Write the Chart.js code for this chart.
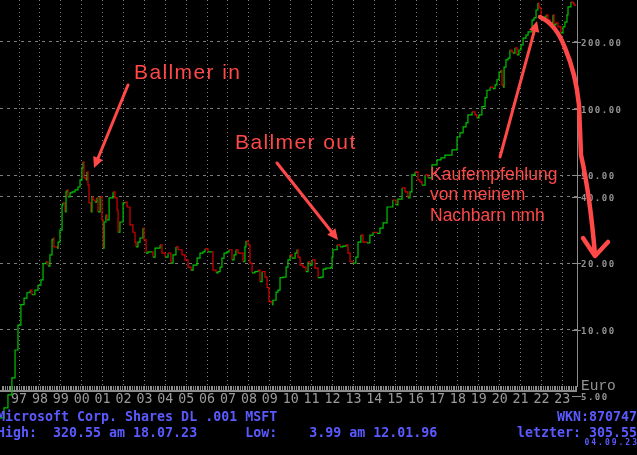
<!DOCTYPE html>
<html>
<head>
<meta charset="utf-8">
<script src="https://cdn.jsdelivr.net/npm/chart.js@4.4.0/dist/chart.umd.min.js"></script>
<style>
  html, body { margin: 0; padding: 0; background: #000; }
  #wrap { width: 637px; height: 455px; position: relative; background: #000; }
</style>
</head>
<body>
<div id="wrap"><canvas id="myChart" width="637" height="455"></canvas></div>
<script>
// MSFT weekly close in Euro
const years = [
  1996.09, 1996.28, 1996.47, 1996.66, 1996.81, 1996.95, 1997.09, 1997.24, 1997.38, 1997.53,
  1997.62, 1997.76, 1997.91, 1998.05, 1998.15, 1998.29, 1998.39, 1998.48, 1998.58, 1998.63,
  1998.67, 1998.82, 1998.87, 1998.96, 1999.06, 1999.10, 1999.20, 1999.25, 1999.30, 1999.34,
  1999.44, 1999.54, 1999.68, 1999.82, 1999.92, 2000.01, 2000.06, 2000.11, 2000.20, 2000.25,
  2000.30, 2000.35, 2000.44, 2000.49, 2000.54, 2000.64, 2000.73, 2000.78, 2000.88, 2000.97,
  2001.02, 2001.07, 2001.16, 2001.21, 2001.31, 2001.50, 2001.59, 2001.69, 2001.74, 2001.83,
  2001.98, 2002.07, 2002.17, 2002.31, 2002.45, 2002.55, 2002.60, 2002.69, 2002.79, 2002.93,
  2002.98, 2003.08, 2003.17, 2003.36, 2003.41, 2003.51, 2003.75, 2003.84, 2003.99, 2004.13,
  2004.27, 2004.37, 2004.51, 2004.61, 2004.80, 2004.94, 2005.09, 2005.23, 2005.33, 2005.52,
  2005.66, 2005.80, 2005.90, 2006.04, 2006.23, 2006.28, 2006.43, 2006.52, 2006.62, 2006.71,
  2006.81, 2006.95, 2007.05, 2007.19, 2007.29, 2007.38, 2007.48, 2007.72, 2007.81, 2007.86,
  2007.96, 2008.05, 2008.15, 2008.29, 2008.44, 2008.53, 2008.63, 2008.77, 2008.87, 2008.96,
  2009.11, 2009.15, 2009.30, 2009.39, 2009.49, 2009.63, 2009.78, 2009.87, 2009.97, 2010.06,
  2010.21, 2010.30, 2010.35, 2010.45, 2010.59, 2010.73, 2010.83, 2010.92, 2011.02, 2011.16,
  2011.31, 2011.45, 2011.55, 2011.69, 2011.79, 2011.93, 2011.98, 2012.02, 2012.22, 2012.36,
  2012.50, 2012.65, 2012.74, 2012.84, 2012.98, 2013.12, 2013.22, 2013.36, 2013.46, 2013.65,
  2013.79, 2013.94, 2014.13, 2014.27, 2014.42, 2014.61, 2014.89, 2015.04, 2015.13, 2015.33,
  2015.47, 2015.61, 2015.71, 2015.80, 2015.95, 2016.09, 2016.19, 2016.28, 2016.43, 2016.57,
  2016.76, 2017.00, 2017.19, 2017.38, 2017.72, 2017.96, 2018.10, 2018.25, 2018.39, 2018.48,
  2018.68, 2018.82, 2018.91, 2019.01, 2019.15, 2019.30, 2019.39, 2019.54, 2019.68, 2019.78,
  2019.87, 2019.97, 2020.06, 2020.11, 2020.16, 2020.21, 2020.30, 2020.40, 2020.49, 2020.59,
  2020.64, 2020.73, 2020.83, 2020.92, 2021.02, 2021.12, 2021.26, 2021.36, 2021.55, 2021.64,
  2021.74, 2021.83, 2021.88, 2021.98, 2022.07, 2022.22, 2022.31, 2022.41, 2022.55, 2022.60,
  2022.69, 2022.79, 2022.93, 2023.03, 2023.12, 2023.22, 2023.27, 2023.41, 2023.51, 2023.56,
  2023.61
];
const prices = [
  4.0, 4.44, 5.08, 6.06, 8.1, 10.5, 13.0, 13.9, 14.7, 15.1,
  14.4, 15.1, 15.9, 16.8, 19.9, 20.3, 19.4, 21.8, 25.5, 26.0,
  23.7, 23.4, 24.9, 28.2, 36.7, 37.5, 34.1, 42.0, 42.9, 39.9,
  41.6, 42.0, 42.9, 44.2, 47.6, 53.9, 57.4, 48.6, 47.6, 51.7,
  45.1, 37.5, 34.1, 39.9, 38.6, 37.8, 39.5, 34.1, 39.9, 31.4,
  23.4, 30.7, 33.1, 31.4, 39.5, 42.0, 39.5, 34.8, 27.6, 30.7,
  37.5, 37.8, 35.9, 29.8, 27.6, 24.9, 23.7, 24.9, 26.0, 28.8,
  25.5, 22.2, 22.5, 22.5, 21.3, 23.4, 24.2, 22.2, 21.3, 22.2,
  20.0, 21.8, 23.7, 23.0, 21.8, 20.7, 19.2, 18.6, 19.6, 21.1,
  22.2, 22.5, 23.2, 22.5, 22.5, 18.6, 18.1, 18.3, 19.2, 21.1,
  22.2, 22.5, 23.0, 20.7, 21.8, 23.0, 22.2, 20.3, 23.7, 25.2,
  24.2, 20.0, 18.1, 18.3, 18.6, 16.5, 18.3, 17.3, 15.5, 13.4,
  13.0, 13.6, 14.8, 15.1, 17.2, 17.3, 19.2, 20.7, 21.8, 21.1,
  22.2, 23.0, 21.3, 19.6, 19.2, 18.3, 20.3, 19.6, 20.7, 19.0,
  17.2, 17.3, 18.8, 19.0, 19.0, 19.2, 21.3, 23.0, 24.2, 23.7,
  23.9, 24.2, 22.2, 20.3, 20.0, 21.3, 24.9, 26.8, 24.9, 24.7,
  26.8, 27.6, 27.3, 28.8, 30.4, 35.9, 38.6, 36.7, 39.0, 43.8,
  42.0, 39.5, 42.0, 50.1, 51.7, 47.6, 46.6, 45.1, 50.1, 48.6,
  55.6, 58.6, 59.8, 61.6, 65.0, 74.4, 77.6, 82.6, 86.1, 93.6,
  96.7, 93.6, 90.7, 93.6, 102, 112, 121, 125, 123, 128,
  135, 146, 149, 128, 125, 154, 166, 169, 184, 180,
  178, 188, 175, 184, 194, 208, 215, 222, 251, 257,
  279, 300, 285, 259, 259, 265, 251, 244, 265, 239,
  244, 234, 220, 234, 246, 265, 288, 303, 300, 294,
  291
];

const yearTicks = [1997, 1998, 1999, 2000, 2001, 2002, 2003, 2004, 2005, 2006, 2007, 2008, 2009,
  2010, 2011, 2012, 2013, 2014, 2015, 2016, 2017, 2018, 2019, 2020, 2021, 2022, 2023];
const priceTicks = [10, 20, 40, 50, 100, 200];
const priceLabels = [5, 10, 20, 40, 50, 100, 200];

const infoName = "Microsoft Corp. Shares DL .001 MSFT";
const infoHighLow = "High:  320.55 am 18.07.23      Low:    3.99 am 12.01.96";
const infoWkn = "WKN:870747";
const infoLast = "letzter: 305.55";
const infoDate = "04.09.23";

const UP = "#00c400";
const DOWN = "#d80000";
const RED = "#ff4848";

function arrowHead(ctx, x1, y1, x2, y2, size) {
    let a = Math.atan2(y2 - y1, x2 - x1);
    ctx.beginPath();
    ctx.moveTo(x2, y2);
    ctx.lineTo(x2 - size * Math.cos(a - 0.45), y2 - size * Math.sin(a - 0.45));
    ctx.lineTo(x2 - size * Math.cos(a + 0.45), y2 - size * Math.sin(a + 0.45));
    ctx.closePath();
    ctx.fill();
}

function arrow(ctx, x1, y1, x2, y2) {
    let a = Math.atan2(y2 - y1, x2 - x1);
    ctx.beginPath();
    ctx.moveTo(x1, y1);
    ctx.lineTo(x2 - 6 * Math.cos(a), y2 - 6 * Math.sin(a));
    ctx.stroke();
    arrowHead(ctx, x1, y1, x2, y2, 12);
}

const decor = {
    id: "decor",
    beforeDatasetsDraw(chart) {
        let ctx = chart.ctx;
        let xs = chart.scales.x;
        let area = chart.chartArea;
        // ruler under the plot, one tick per month
        ctx.save();
        ctx.fillStyle = "#8c8c8c";
        ctx.fillRect(area.left, area.bottom + 4, area.right - area.left, 2);
        for (let m = 1996 * 12 + 2; m <= 2023 * 12 + 8; m++) {
            let px = Math.round(xs.getPixelForValue(m / 12));
            if (px < area.left || px > area.right) continue;
            ctx.fillRect(px, area.bottom, 1, 4);
        }
        ctx.restore();
    },
    afterDraw(chart) {
        let ctx = chart.ctx;
        let ys = chart.scales.y;
        let area = chart.chartArea;
        ctx.save();

        // price labels on the right
        ctx.fillStyle = "#949494";
        ctx.strokeStyle = "#8c8c8c";
        ctx.lineWidth = 1;
        ctx.font = 'bold 9px "DejaVu Sans Mono"';
        ctx.letterSpacing = "1.5px";
        ctx.textBaseline = "alphabetic";
        priceLabels.forEach(function (v) {
            let py = Math.round(ys.getPixelForValue(v)) + 0.5;
            ctx.beginPath();
            ctx.moveTo(area.right - 5, py);
            ctx.lineTo(area.right + 4, py);
            ctx.stroke();
            ctx.fillText(v.toFixed(2), area.right + 4, py + 3);
        });
        ctx.letterSpacing = "0px";
        ctx.font = '14.5px "Liberation Mono"';
        ctx.fillText("Euro", area.right + 4, area.bottom + 4);

        // info lines in blue
        ctx.fillStyle = "#5a5aff";
        ctx.font = 'bold 13.3px "DejaVu Sans Mono"';
        ctx.textAlign = "left";
        ctx.fillText(infoName, -3, 421);
        ctx.fillText(infoHighLow, -3, 437);
        ctx.textAlign = "right";
        ctx.fillText(infoWkn, 637, 421);
        ctx.fillText(infoLast, 637, 437);
        ctx.font = 'bold 8px "DejaVu Sans Mono"';
        ctx.letterSpacing = "2px";
        ctx.fillText(infoDate, 639, 445);
        ctx.letterSpacing = "0px";
        ctx.textAlign = "left";

        // hand-drawn notes
        ctx.fillStyle = RED;
        ctx.strokeStyle = RED;
        ctx.lineCap = "round";
        ctx.lineJoin = "round";
        ctx.font = '21px "Liberation Sans"';
        ctx.letterSpacing = "1.4px";
        ctx.fillText("Ballmer in", 134, 79);
        ctx.fillText("Ballmer out", 235, 149);
        ctx.letterSpacing = "0px";
        ctx.font = '17.5px "Liberation Sans"';
        ctx.fillText("Kaufempfehlung", 430, 180);
        ctx.fillText("von meinem", 430, 200);
        ctx.fillText("Nachbarn nmh", 430, 221);

        ctx.lineWidth = 3;
        arrow(ctx, 128, 85, 94, 168);
        arrow(ctx, 277, 163, 338, 240);
        arrow(ctx, 500, 157, 537, 21);

        ctx.lineWidth = 4.5;
        ctx.beginPath();
        ctx.moveTo(540, 17);
        ctx.quadraticCurveTo(556, 24, 565, 48);
        ctx.quadraticCurveTo(576, 74, 579, 105);
        ctx.lineTo(581, 155);
        ctx.quadraticCurveTo(590, 195, 595, 255);
        ctx.stroke();
        ctx.beginPath();
        ctx.moveTo(583, 238);
        ctx.lineTo(595, 256);
        ctx.lineTo(608, 242);
        ctx.stroke();

        ctx.restore();
    }
};

new Chart(document.getElementById("myChart"), {
    type: "line",
    data: {
        datasets: [{
            data: years.map((x, i) => ({ x: x, y: prices[i] })),
            stepped: true,
            borderWidth: 1.2,
            pointRadius: 0,
            clip: false,
            borderColor: UP,
            segment: {
                borderColor: c => c.p1.parsed.y >= c.p0.parsed.y ? UP : DOWN
            }
        }]
    },
    options: {
        responsive: false,
        animation: false,
        layout: { padding: 0, autoPadding: false },
        plugins: {
            legend: { display: false },
            tooltip: { enabled: false }
        },
        scales: {
            x: {
                type: "linear",
                min: 1996.09,
                max: 2023.70,
                afterBuildTicks: s => { s.ticks = yearTicks.map(v => ({ value: v })); },
                afterFit: s => { s.height = 69; },
                grid: { color: "#7c7c7c", drawTicks: false },
                border: { display: false, dash: [1, 3] },
                ticks: {
                    autoSkip: false,
                    maxRotation: 0,
                    padding: 6,
                    color: "#9a9a9a",
                    font: { family: "DejaVu Sans Mono", size: 13.3 },
                    callback: v => String(v).slice(2)
                }
            },
            y: {
                type: "logarithmic",
                position: "right",
                min: 5.57,
                max: 309.6,
                afterBuildTicks: s => { s.ticks = priceTicks.map(v => ({ value: v })); },
                afterFit: s => { s.width = 60; },
                grid: { color: "#7c7c7c", drawTicks: false },
                border: { display: true, color: "#8c8c8c", dash: [3, 4] },
                ticks: { display: false }
            }
        }
    },
    plugins: [decor]
});
</script>
</body>
</html>
